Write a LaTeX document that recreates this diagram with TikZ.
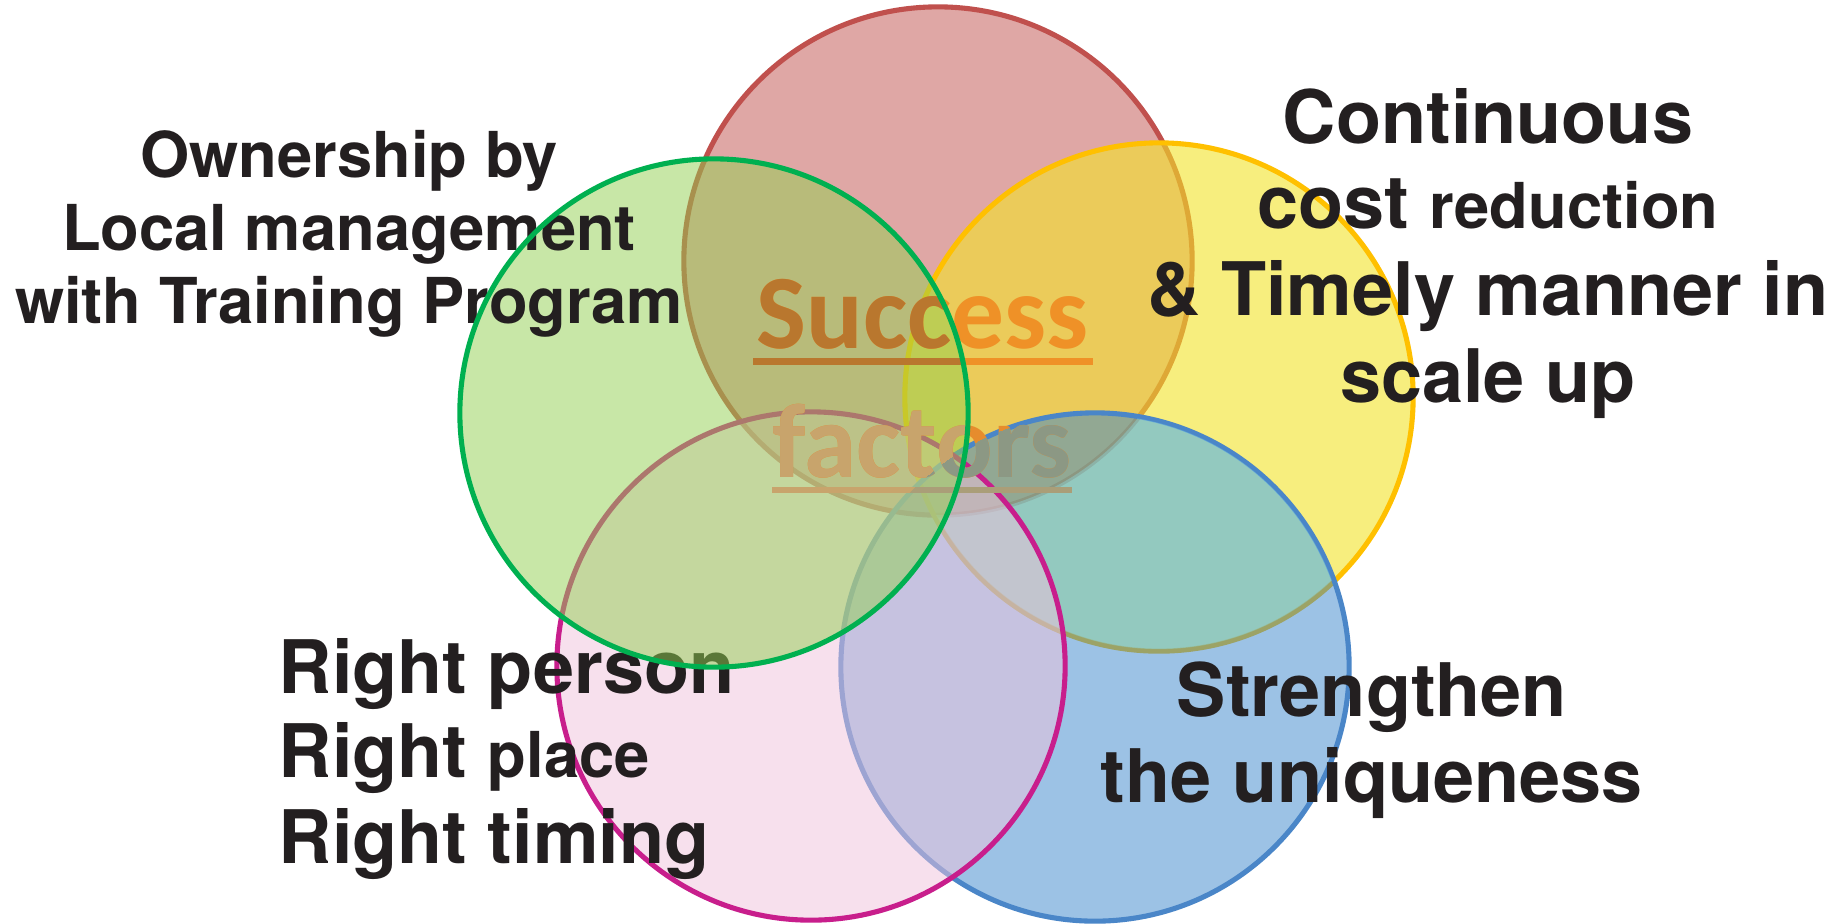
\documentclass[tikz,border=0pt]{standalone}
\usepackage{fontspec}
\setmainfont{TeX Gyre Heros}
\newfontfamily\calibri{Carlito}
\usepackage{tikz}
\definecolor{ringred}{RGB}{192,80,77}
\definecolor{ringgreen}{RGB}{0,176,80}
\definecolor{fillgreen}{RGB}{146,208,80}
\definecolor{ringyellow}{RGB}{255,192,0}
\definecolor{fillyellow}{RGB}{243,227,40}
\definecolor{ringpink}{RGB}{200,30,140}
\definecolor{fillpink}{RGB}{241,195,221}
\definecolor{ringblue}{RGB}{74,134,200}
\definecolor{fillblue}{RGB}{59,135,205}
\definecolor{tealtint}{RGB}{140,230,240}
\definecolor{inkblack}{RGB}{35,31,32}
\definecolor{successorange}{RGB}{239,145,39}
\definecolor{successbrown}{RGB}{185,119,46}
\definecolor{factorsorange}{RGB}{230,140,45}
\definecolor{factorstan}{RGB}{200,164,108}
\definecolor{factorsgrey}{RGB}{140,152,132}

\begin{document}
\begin{tikzpicture}[x=0.01cm,y=-0.01cm,
    ring/.style={line width=1.45pt,fill opacity=0.5},
    bigtext/.style={inner sep=0pt,anchor=base,text=inkblack,font=\fontsize{21}{25}\selectfont\bfseries},
    midtext/.style={inner sep=0pt,anchor=base,text=inkblack,font=\fontsize{18}{22}\selectfont\bfseries},
    headline/.style={inner sep=0pt,anchor=base,font=\calibri\bfseries\fontsize{30}{36}\selectfont}]
    \useasboundingbox (0,0) rectangle (1845,923);
    \fill[white] (0,0) rectangle (1845,923);

    % Centres of the five circles
    \coordinate (redc) at (938,261);
    \coordinate (greenc) at (714,413);
    \coordinate (yellowc) at (1159,397);
    \coordinate (pinkc) at (811,666);
    \coordinate (bluec) at (1095,667);

    % Circles
    \draw[ring,draw=ringred,fill=ringred] (redc) circle[radius=2.54cm];
    \draw[ring,fill opacity=0.6,draw=ringyellow,fill=fillyellow] (yellowc) circle[radius=2.54cm];
    \draw[ring,draw=ringblue,fill=fillblue] (bluec) circle[radius=2.54cm];
    % teal where blue lies on yellow
    \begin{scope}[even odd rule]
        \clip (yellowc) circle[radius=2.52cm];
        \clip (0,0) rectangle (1845,923) (redc) circle[radius=2.54cm];
        \fill[tealtint,fill opacity=0.35] (bluec) circle[radius=2.52cm];
    \end{scope}
    \draw[ring,draw=ringpink,fill=fillpink] (pinkc) circle[radius=2.54cm];

    % Right person / place / timing
    \node[bigtext,anchor=base west] (person) at (278,693) {Right person};
    \node[bigtext,anchor=base west] (place) at (278,777) {Right {\fontsize{18}{22}\selectfont place}};
    \node[bigtext,anchor=base west] (timing) at (278,863) {Right timing};

    % Green circle, fill only
    \fill[fillgreen,fill opacity=0.5] (greenc) circle[radius=2.54cm];

    % Success factors
    \node[headline,text=successorange] (success) at (923,348) {Success};
    \draw[successorange,line width=0.07cm] ([xshift=-0.03cm,yshift=-0.13cm]success.base west) -- ([xshift=0.03cm,yshift=-0.13cm]success.base east);
    \node[headline,text=factorsorange] (factors) at (922,477) {factors};
    \draw[factorstan,line width=0.06cm] ([yshift=-0.13cm]factors.base west) -- ([yshift=-0.13cm]factors.base east);
    \begin{scope}
        \clip (greenc) circle[radius=2.54cm];
        \node[headline,text=successbrown] (successdark) at (success.base) {Success};
        \draw[successbrown,line width=0.07cm] ([xshift=-0.03cm,yshift=-0.13cm]successdark.base west) -- ([xshift=0.03cm,yshift=-0.13cm]successdark.base east);
        \node[headline,text=factorstan] (factorstint) at (factors.base) {factors};
    \end{scope}
    \begin{scope}
        \clip (bluec) circle[radius=2.54cm];
        \node[headline,text=factorsgrey] (factorsgreyed) at (factors.base) {factors};
        \draw[factorsgrey!50!factorstan,line width=0.06cm] ([yshift=-0.13cm]factorsgreyed.base west) -- ([yshift=-0.13cm]factorsgreyed.base east);
    \end{scope}

    % Ownership by local management
    \node[midtext] (own) at (349,177) {Ownership by};
    \node[midtext] (local) at (349,250) {Local management};
    \node[midtext] (training) at (349,323) {with Training Program};

    % Continuous cost reduction
    \node[bigtext] (cont) at (1488,143) {Continuous};
    \node[bigtext] (cost) at (1488,228) {cost {\fontsize{18}{22}\selectfont reduction}};
    \node[bigtext] (timely) at (1488,315) {\& Timely manner in};
    \node[bigtext] (scale) at (1488,402) {scale up};

    % Strengthen the uniqueness
    \node[bigtext] (streng) at (1372,716) {Strengthen};
    \node[bigtext] (unique) at (1372,802) {the uniqueness};

    % Green circle, outline on top
    \draw[draw=ringgreen,line width=1.45pt] (greenc) circle[radius=2.54cm];
\end{tikzpicture}
\end{document}
